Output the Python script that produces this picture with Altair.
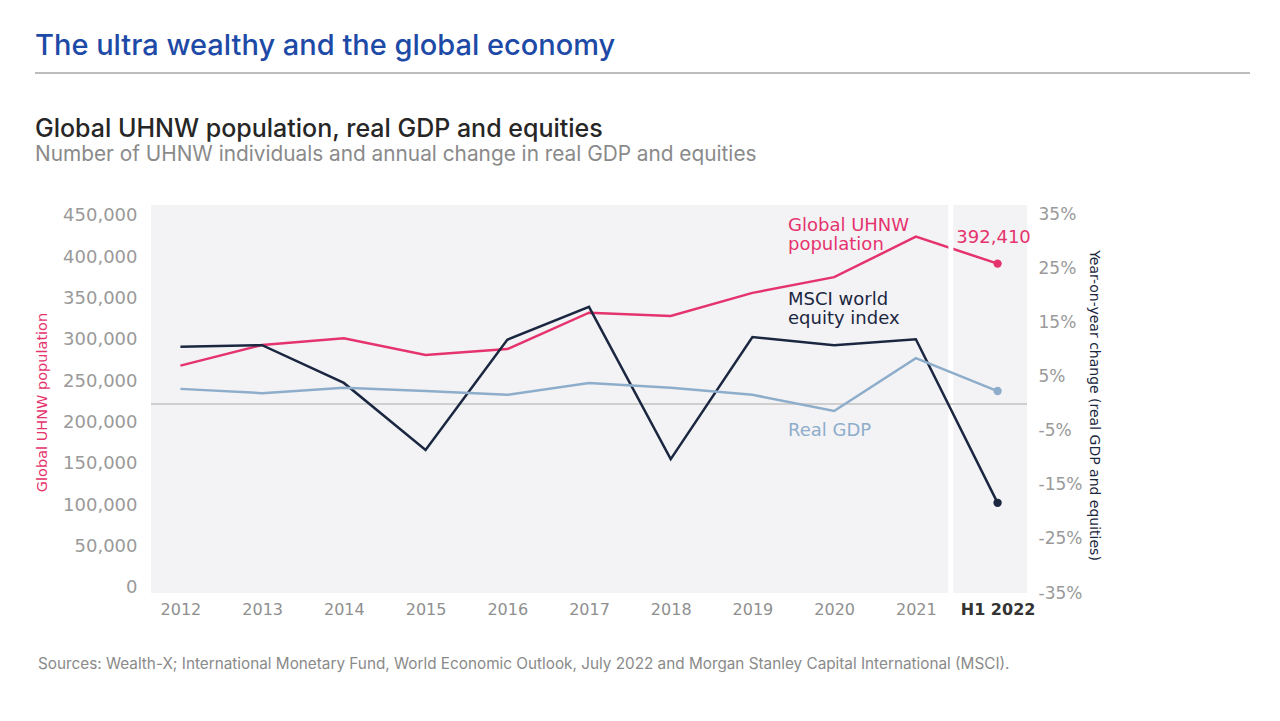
import altair as alt
import pandas as pd

periods = ["2012", "2013", "2014", "2015", "2016", "2017", "2018", "2019", "2020", "2021", "H1 2022"]
uhnw_population = [269000, 294000, 302000, 282000, 289000, 333000, 329000, 357000, 376000, 425000, 392410]
msci_change = [10.6, 10.9, 3.9, -8.5, 11.9, 18.0, -10.2, 12.4, 10.9, 12.0, -18.3]
gdp_change = [2.8, 2.0, 3.0, 2.4, 1.7, 3.9, 3.0, 1.7, -1.3, 8.5, 2.4]

left_ticks = [0, 50000, 100000, 150000, 200000, 250000, 300000, 350000, 400000, 450000]
right_ticks = [-35, -25, -15, -5, 5, 15, 25, 35]

PINK = "#e5336d"
NAVY = "#1b2740"
LIGHT = "#8eadca"
FONT = "DejaVu Sans"
HFONT = "Inter"

pop_df = pd.DataFrame({"period": periods, "uhnw": uhnw_population})
pct_df = pd.concat([
    pd.DataFrame({"period": periods, "pct": msci_change, "series": "MSCI world equity index"}),
    pd.DataFrame({"period": periods, "pct": gdp_change, "series": "Real GDP"}),
])

W, H = 876, 388

x_enc = alt.X("period:O", sort=periods,
              scale=alt.Scale(type="point", padding=0.36),
              axis=alt.Axis(title=None, labelAngle=0, labelFontSize=16, labelPadding=8,
                            labelFont=FONT,
                            labelColor={"expr": "datum.value == 'H1 2022' ? '#333333' : '#8f8f8f'"},
                            labelFontWeight={"expr": "datum.value == 'H1 2022' ? 'bold' : 'normal'"},
                            domain=False, ticks=False, grid=False))

y_left = alt.Y("uhnw:Q",
               scale=alt.Scale(domain=[-6050, 463300], nice=False, zero=False),
               axis=alt.Axis(orient="left", values=left_ticks, format=",d", labelFontSize=18,
                             labelFont=FONT, labelColor="#9a9a9a", labelPadding=14,
                             domain=False, ticks=False, grid=False,
                             title="Global UHNW population", titleColor=PINK, titleFontSize=14.5,
                             titleFont=FONT, titleFontWeight="normal",
                             titleX=-109, titleY=197, titleAngle=270, titleAlign="center",
                             titleBaseline="middle"))

pct_scale = alt.Scale(domain=[-35, 36.85], nice=False, zero=False)
y_right = alt.Y("pct:Q", scale=pct_scale,
                axis=alt.Axis(orient="right", values=right_ticks, labelExpr="datum.value + '%'",
                              labelFontSize=17, labelFont=FONT, labelColor="#9a9a9a",
                              labelPadding=11, domain=False, ticks=False, grid=False,
                              title="Year-on-year change (real GDP and equities)",
                              titleColor=NAVY, titleFontSize=14, titleFont=FONT,
                              titleFontWeight="normal",
                              titleX=66, titleY=200, titleAngle=90, titleAlign="center",
                              titleBaseline="middle"))

base_pop = alt.Chart(pop_df)
pop_line = base_pop.mark_line(color=PINK, strokeWidth=2.5).encode(x=x_enc, y=y_left)
pop_point = base_pop.mark_point(color=PINK, filled=True, size=70, opacity=1).encode(
    x=x_enc, y=y_left).transform_filter("datum.period == 'H1 2022'")
pop_label = base_pop.mark_text(color=PINK, font=FONT, fontSize=18, dy=-26, dx=-4, align="center").encode(
    x=x_enc, y=y_left, text=alt.Text("uhnw:Q", format=",d")).transform_filter("datum.period == 'H1 2022'")

left = alt.layer(pop_line, pop_point, pop_label)

base_pct = alt.Chart(pct_df)
color_enc = alt.Color("series:N", scale=alt.Scale(domain=["MSCI world equity index", "Real GDP"],
                                                  range=[NAVY, LIGHT]), legend=None)
zero_rule = alt.Chart(pd.DataFrame({"pct": [0]})).mark_rule(color="#cfcfcf", strokeWidth=2).encode(
    y=y_right)
separator = alt.Chart(pd.DataFrame({"period": ["2021"]})).mark_rule(
    color="white", strokeWidth=5, xOffset=35).encode(x=x_enc)
pct_lines = base_pct.mark_line(strokeWidth=2.5).encode(x=x_enc, y=y_right, color=color_enc)
pct_points = base_pct.mark_point(filled=True, size=70, opacity=1).encode(
    x=x_enc, y=y_right, color=color_enc
).transform_filter("datum.period == 'H1 2022'")

right = alt.layer(separator, zero_rule, pct_lines, pct_points)


def txt(text, x, y, size, color, weight="normal", font=FONT, align="left", line_height=None):
    kw = dict(text=text, align=align, baseline="alphabetic", fontSize=size, color=color,
              fontWeight=weight, font=font)
    if line_height:
        kw["lineBreak"] = "\n"
        kw["lineHeight"] = line_height
    return alt.Chart(pd.DataFrame({"a": [0]})).mark_text(**kw).encode(
        x=alt.value(x), y=alt.value(y))


ann = alt.layer(
    txt("Global UHNW\npopulation", 637, 26, 18, PINK, line_height=19),
    txt("MSCI world\nequity index", 637, 100, 18, NAVY, line_height=19),
    txt("Real GDP", 637, 231, 18, LIGHT),
    txt("The ultra wealthy and the global economy", -116, -150, 29, "#1d4aa6", weight=500, font=HFONT),
    txt("Global UHNW population, real GDP and equities", -116, -68, 25, "#262626", weight=500, font=HFONT),
    txt("Number of UHNW individuals and annual change in real GDP and equities", -116, -44, 20.8, "#8a8a8a", font=HFONT),
    txt("Sources: Wealth-X; International Monetary Fund, World Economic Outlook, July 2022 and Morgan Stanley Capital International (MSCI).",
        -113, 464, 15.3, "#8a8a8a", font=HFONT),
)
header_rule = alt.Chart(pd.DataFrame({"a": [0]})).mark_rule(color="#bdbdbd", strokeWidth=2).encode(
    x=alt.value(-116), x2=alt.value(1099), y=alt.value(-132))

chart = alt.layer(left, right, ann, header_rule).resolve_scale(y="independent").properties(
    width=W, height=H,
    autosize=alt.AutoSizeParams(type="none"),
    padding={"left": 143, "top": 197, "right": 230, "bottom": 120},
    background="white",
).configure_view(fill="#f3f3f6", stroke=None)

chart.save("out.html", embed_options={"renderer": "svg", "actions": False})
